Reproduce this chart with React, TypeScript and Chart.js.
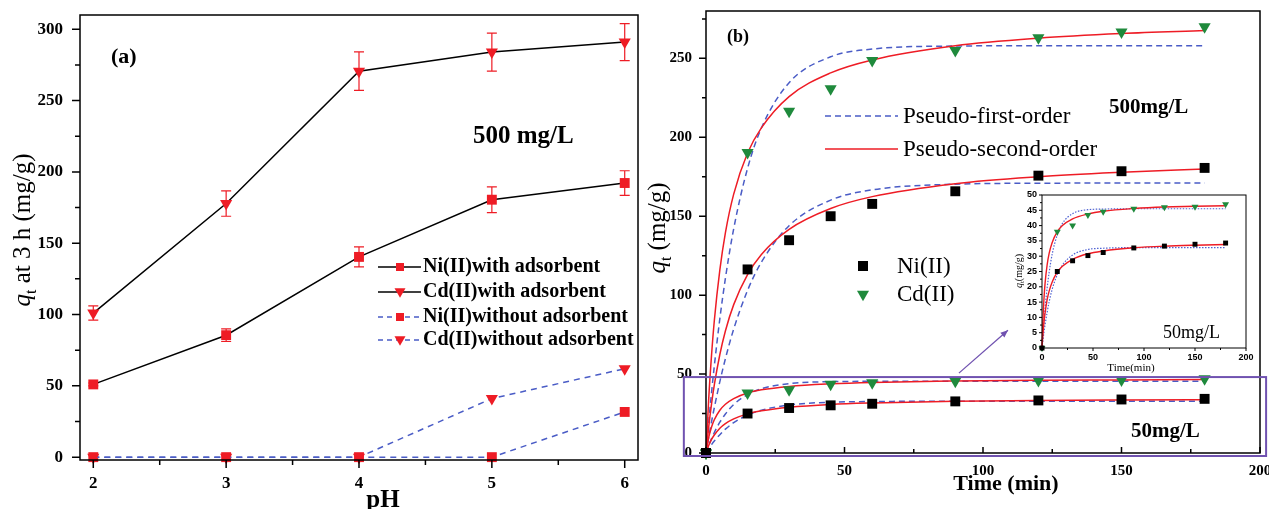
import React, { useEffect, useRef } from 'react';
import { Chart, registerables } from 'chart.js';
Chart.register(...registerables);

const SERIF = '"Liberation Serif", "Times New Roman", serif';
const SANS = '"Liberation Sans", Arial, sans-serif';
const RED = '#ee1c25';
const BLUE = '#4a5cc6';
const GREEN = '#1f8a3c';
const PURPLE = '#7052b0';

// ---------- Panel (a): effect of pH ----------
const pHValues = [2, 3, 4, 5, 6];
const niWith = [51, 85.5, 140.4, 180.5, 192.2];
const niWithErr = [1, 4.4, 7, 9, 8.6];
const cdWith = [101, 177.8, 270.6, 284, 291];
const cdWithErr = [5, 8.9, 13.5, 13.3, 13];
const niWithout = [0, 0, 0, 0, 31.7];
const cdWithout = [0, 0, 0, 41.1, 62];
const legendA = ['Ni(II)with adsorbent', 'Cd(II)with adsorbent', 'Ni(II)without adsorbent', 'Cd(II)without adsorbent'];

// ---------- Panel (b): kinetics ----------
const timeMin = [0, 15, 30, 45, 60, 90, 120, 150, 180];
const ni500 = [0, 116.3, 134.8, 150, 157.8, 165.8, 175.7, 178.5, 180.6];
const cd500 = [0, 190.3, 216.5, 230.8, 248.7, 255, 263, 266.7, 270];
const ni50 = [0, 25, 28.5, 30.2, 31.2, 32.7, 33.3, 33.9, 34.3];
const cd50 = [0, 38, 40, 43.5, 44.5, 45.5, 46, 46.2, 47];

const fitTime = [0, 1, 2, 3, 5, 7, 10, 15, 20, 30, 45, 60, 90, 120, 150, 180];
const psoCd500 = [0, 35, 62, 83.8, 116, 139.5, 164, 190, 206, 225.8, 240.8, 249, 258, 262.8, 265.7, 267.6];
const psoNi500 = [0, 16.9, 31.1, 43.1, 62.4, 77.3, 94, 113, 125.8, 141.7, 154.9, 162.4, 170.6, 175, 177.8, 179.9];
const psoCd50 = [0, 10, 16.5, 21.1, 27.1, 30.9, 34.5, 38, 40, 42.2, 43.8, 44.7, 45.6, 46.1, 46.3, 46.5];
const psoNi50 = [0, 4.9, 8.6, 11.4, 15.7, 18.6, 21.6, 24.8, 26.7, 29, 30.8, 31.7, 32.75, 33.3, 33.6, 33.8];
const pfoCd500 = [0, 19.8, 38.2, 55.1, 85.1, 110.6, 142.1, 180.3, 205.9, 234.6, 251, 255.9, 257.8, 258, 258, 258];
const pfoNi500 = [0, 10.2, 19.8, 28.7, 45.2, 59.7, 78.5, 103, 120.9, 144, 160.2, 166.7, 170.3, 170.9, 171, 171];
const pfoCd50 = [0, 4.8, 9.1, 13, 19.5, 24.7, 30.7, 37, 40.7, 43.9, 45.2, 45.4, 45.5, 45.5, 45.5, 45.5];
const pfoNi50 = [0, 2.8, 5.3, 7.6, 11.6, 15.1, 19.2, 24, 27.1, 30.4, 32.2, 32.6, 32.8, 32.8, 32.8, 32.8];

// highlight box around the 50 mg/L curves, and the arrow to the inset (data units)
const highlightT = [-8, 202.2];
const highlightQ = [-1.9, 48.1];
const arrowT = [91.3, 109];
const arrowQ = [50.6, 77.8];

const pts = (xs: number[], ys: number[]) => xs.map((x, i) => ({ x, y: ys[i] }));

function range(a: number, b: number, s: number) {
  const r: number[] = [];
  for (let v = a; v <= b + 1e-9; v += s) r.push(Math.round(v * 1000) / 1000);
  return r;
}

function ticksOn(ctx: CanvasRenderingContext2D, scale: any, vals: number[], major: (v: number) => boolean,
  majLen: number, minLen: number, pos: number, sign: number, horizontal: boolean) {
  ctx.beginPath();
  for (const v of vals) {
    const p = scale.getPixelForValue(v);
    const len = major(v) ? majLen : minLen;
    if (horizontal) { ctx.moveTo(p, pos); ctx.lineTo(p, pos + sign * len); }
    else { ctx.moveTo(pos, p); ctx.lineTo(pos + sign * len, p); }
  }
  ctx.stroke();
}

function qtTitle(ctx: CanvasRenderingContext2D, baseX: number, cy: number, size: number, rest: string) {
  ctx.save();
  ctx.translate(baseX, cy);
  ctx.rotate(-Math.PI / 2);
  const fq = `italic ${size}px ${SERIF}`;
  const fs = `${Math.round(size * 0.65)}px ${SERIF}`;
  const fr = `${size}px ${SERIF}`;
  ctx.font = fq; const wq = ctx.measureText('q').width;
  ctx.font = fs; const wt = ctx.measureText('t').width;
  ctx.font = fr; const wr = ctx.measureText(rest).width;
  let x = -(wq + wt + wr) / 2;
  ctx.textAlign = 'left'; ctx.textBaseline = 'alphabetic'; ctx.fillStyle = '#000';
  ctx.font = fq; ctx.fillText('q', x, 0); x += wq;
  ctx.font = fs; ctx.fillText('t', x, size * 0.22); x += wt;
  ctx.font = fr; ctx.fillText(rest, x, 0);
  ctx.restore();
}

function text(ctx: CanvasRenderingContext2D, s: string, x: number, y: number, font: string, align: CanvasTextAlign = 'left', base: CanvasTextBaseline = 'middle') {
  ctx.font = font; ctx.fillStyle = '#000'; ctx.textAlign = align; ctx.textBaseline = base;
  ctx.fillText(s, x, y);
}

function square(ctx: CanvasRenderingContext2D, x: number, y: number, s: number, c: string) {
  ctx.fillStyle = c; ctx.fillRect(x - s / 2, y - s / 2, s, s);
}
function triDown(ctx: CanvasRenderingContext2D, x: number, y: number, w: number, c: string) {
  const h = w * 0.866;
  ctx.fillStyle = c; ctx.beginPath();
  ctx.moveTo(x - w / 2, y - h / 2); ctx.lineTo(x + w / 2, y - h / 2); ctx.lineTo(x, y + h / 2);
  ctx.closePath(); ctx.fill();
}

function axisX(min: number, max: number, step: number, size: number, pad: number, height: number, family = SERIF) {
  return {
    type: 'linear', min, max,
    border: { display: false },
    grid: { display: false, drawTicks: false },
    ticks: { stepSize: step, includeBounds: false, autoSkip: false, maxRotation: 0, padding: pad, color: '#000',
      font: { family, size, weight: 'bold' } },
    afterFit(s: any) { s.height = height; s.paddingLeft = 0; s.paddingRight = 0; },
  };
}
function axisY(min: number, max: number, step: number, size: number, pad: number, width: number, family = SERIF) {
  return {
    type: 'linear', min, max,
    border: { display: false },
    grid: { display: false, drawTicks: false },
    ticks: { stepSize: step, includeBounds: false, autoSkip: false, padding: pad, color: '#000',
      font: { family, size, weight: 'bold' } },
    afterFit(s: any) { s.width = width; s.paddingTop = 0; s.paddingBottom = 0; },
  };
}

function configA(): any {
  const line = (data: number[], color: string, dash: number[], style: string, rot: number, r: number) => ({
    data: pts(pHValues, data), showLine: true, borderColor: color, borderWidth: 1.5, borderDash: dash,
    pointStyle: style, rotation: rot, pointRadius: r, pointBackgroundColor: RED, pointBorderColor: RED,
    pointBorderWidth: 0, clip: false,
  });
  return {
    type: 'scatter',
    data: {
      datasets: [
        line(cdWith, '#000', [], 'triangle', 180, 7),
        line(niWith, '#000', [], 'rect', 7, 7),
        line(cdWithout, BLUE, [6, 5], 'triangle', 180, 7),
        line(niWithout, BLUE, [6, 5], 'rect', 0, 7),
      ].map((d, i) => (i === 1 ? { ...d, rotation: 0 } : d)),
    },
    options: {
      responsive: false, animation: false, events: [],
      layout: { padding: { left: 0, top: 15, right: 4, bottom: 0 } },
      plugins: { legend: { display: false }, tooltip: { enabled: false } },
      scales: {
        x: axisX(1.9, 6.1, 1, 17, 13, 49),
        y: axisY(-2, 310, 50, 17, 17, 80),
      },
    },
    plugins: [{
      id: 'panelA',
      beforeDatasetsDraw(chart: any) {
        const ctx = chart.ctx; const xs = chart.scales.x; const ys = chart.scales.y;
        ctx.save(); ctx.strokeStyle = RED; ctx.lineWidth = 1.2;
        ([[niWith, niWithErr], [cdWith, cdWithErr]] as number[][][]).forEach(([vals, errs]) => {
          vals.forEach((v, i) => {
            const x = xs.getPixelForValue(pHValues[i]);
            const y1 = ys.getPixelForValue(v + errs[i]);
            const y2 = ys.getPixelForValue(v - errs[i]);
            ctx.beginPath();
            ctx.moveTo(x, y1); ctx.lineTo(x, y2);
            ctx.moveTo(x - 5, y1); ctx.lineTo(x + 5, y1);
            ctx.moveTo(x - 5, y2); ctx.lineTo(x + 5, y2);
            ctx.stroke();
          });
        });
        ctx.restore();
      },
      afterDraw(chart: any) {
        const ctx: CanvasRenderingContext2D = chart.ctx;
        const { left, top, right, bottom } = chart.chartArea;
        const xs = chart.scales.x; const ys = chart.scales.y;
        ctx.save();
        ctx.strokeStyle = '#000'; ctx.lineWidth = 1.5;
        ctx.strokeRect(left, top, right - left, bottom - top);
        ticksOn(ctx, ys, range(0, 300, 25), (v) => v % 50 === 0, 8, 5, left, -1, false);
        ticksOn(ctx, xs, range(2, 6, 0.5), (v) => Number.isInteger(v), 8, 5, bottom, 1, true);
        text(ctx, '(a)', 111, 57, `bold 22px ${SERIF}`);
        text(ctx, '500 mg/L', 473, 137, `bold 25px ${SERIF}`);
        const rows = [267, 292, 317, 340];
        rows.forEach((y, i) => {
          ctx.save();
          ctx.lineWidth = 1.5;
          if (i < 2) { ctx.strokeStyle = '#000'; ctx.setLineDash([]); }
          else { ctx.strokeStyle = BLUE; ctx.setLineDash([5, 4]); }
          ctx.beginPath(); ctx.moveTo(378, y); ctx.lineTo(421, y); ctx.stroke();
          ctx.restore();
          if (i % 2 === 0) square(ctx, 400, y, 8, RED); else triDown(ctx, 400, y + 1, 11, RED);
          text(ctx, legendA[i], 423, y, `bold 20px ${SERIF}`);
        });
        qtTitle(ctx, 30, 230, 25, ' at 3 h (mg/g)');
        text(ctx, 'pH', 383, 507, `bold 25px ${SERIF}`, 'center', 'alphabetic');
        ctx.restore();
      },
    }],
  };
}

function markerSets(r: number, sq: number) {
  const m = (data: number[], style: string, color: string, rad: number) => ({
    data: pts(timeMin, data), showLine: false, pointStyle: style, rotation: style === 'triangle' ? 180 : 0,
    pointRadius: rad, pointBackgroundColor: color, pointBorderColor: color, pointBorderWidth: 0, clip: false,
  });
  return [m(ni500, 'rect', '#000', sq), m(cd500, 'triangle', GREEN, r), m(ni50, 'rect', '#000', sq), m(cd50, 'triangle', GREEN, r)];
}
function fitSets(which: number[][], color: string, dash: number[], width: number) {
  return which.map((d) => ({
    data: pts(fitTime, d), showLine: true, borderColor: color, borderWidth: width, borderDash: dash,
    pointRadius: 0, cubicInterpolationMode: 'monotone', clip: false,
  }));
}

function configB(): any {
  const OX = 645;
  return {
    type: 'scatter',
    data: {
      datasets: [
        ...markerSets(7, 7),
        ...fitSets([psoCd500, psoNi500, psoCd50, psoNi50], RED, [], 1.5),
        ...fitSets([pfoCd500, pfoNi500, pfoCd50, pfoNi50], BLUE, [6, 4], 1.5),
      ],
    },
    options: {
      responsive: false, animation: false, events: [],
      layout: { padding: { left: 0, top: 11, right: 9, bottom: 0 } },
      plugins: { legend: { display: false }, tooltip: { enabled: false } },
      scales: {
        x: axisX(0, 200, 50, 15, 9, 56),
        y: axisY(0, 280, 50, 15, 14, 61),
      },
    },
    plugins: [{
      id: 'panelB',
      afterDraw(chart: any) {
        const ctx: CanvasRenderingContext2D = chart.ctx;
        const { left, top, right, bottom } = chart.chartArea;
        const xs = chart.scales.x; const ys = chart.scales.y;
        ctx.save();
        ctx.strokeStyle = '#000'; ctx.lineWidth = 1.5;
        ctx.strokeRect(left, top, right - left, bottom - top);
        ticksOn(ctx, ys, range(0, 275, 25), (v) => v % 50 === 0, 7, 4, left, -1, false);
        ticksOn(ctx, xs, range(0, 200, 25), (v) => v % 50 === 0, 6, 4, bottom, -1, true);
        // highlight box + arrow
        ctx.strokeStyle = PURPLE; ctx.lineWidth = 2;
        const bx1 = xs.getPixelForValue(highlightT[0]); const bx2 = xs.getPixelForValue(highlightT[1]);
        const by1 = ys.getPixelForValue(highlightQ[1]); const by2 = ys.getPixelForValue(highlightQ[0]);
        ctx.strokeRect(bx1, by1, bx2 - bx1, by2 - by1);
        const ax1 = xs.getPixelForValue(arrowT[0]); const ay1 = ys.getPixelForValue(arrowQ[0]);
        const ax2 = xs.getPixelForValue(arrowT[1]); const ay2 = ys.getPixelForValue(arrowQ[1]);
        ctx.lineWidth = 1.3;
        ctx.beginPath(); ctx.moveTo(ax1, ay1); ctx.lineTo(ax2, ay2); ctx.stroke();
        const ang = Math.atan2(ay2 - ay1, ax2 - ax1);
        ctx.fillStyle = PURPLE; ctx.beginPath();
        ctx.moveTo(ax2, ay2);
        ctx.lineTo(ax2 - 8 * Math.cos(ang - 0.4), ay2 - 8 * Math.sin(ang - 0.4));
        ctx.lineTo(ax2 - 8 * Math.cos(ang + 0.4), ay2 - 8 * Math.sin(ang + 0.4));
        ctx.closePath(); ctx.fill();
        // texts
        text(ctx, '(b)', 727 - OX, 37, `bold 18px ${SERIF}`);
        text(ctx, '500mg/L', 1109 - OX, 108, `bold 21px ${SERIF}`);
        text(ctx, '50mg/L', 1131 - OX, 432, `bold 21px ${SERIF}`);
        // legend
        ctx.lineWidth = 1.5;
        ctx.strokeStyle = BLUE; ctx.setLineDash([6, 4]);
        ctx.beginPath(); ctx.moveTo(825 - OX, 116); ctx.lineTo(898 - OX, 116); ctx.stroke();
        ctx.strokeStyle = RED; ctx.setLineDash([]);
        ctx.beginPath(); ctx.moveTo(825 - OX, 149); ctx.lineTo(898 - OX, 149); ctx.stroke();
        text(ctx, 'Pseudo-first-order', 903 - OX, 117, `23px ${SERIF}`);
        text(ctx, 'Pseudo-second-order', 903 - OX, 150, `23px ${SERIF}`);
        square(ctx, 863 - OX, 266, 10, '#000');
        triDown(ctx, 863 - OX, 296, 12, GREEN);
        text(ctx, 'Ni(II)', 897 - OX, 267, `23px ${SERIF}`);
        text(ctx, 'Cd(II)', 897 - OX, 295, `23px ${SERIF}`);
        qtTitle(ctx, 665 - OX, 228, 25, ' (mg/g)');
        text(ctx, 'Time (min)', 1006 - OX, 490, `bold 22px ${SERIF}`, 'center', 'alphabetic');
        ctx.restore();
      },
    }],
  };
}

function configInset(): any {
  const OX = 1005; const OY = 185;
  return {
    type: 'scatter',
    data: {
      datasets: [
        ...markerSets(4, 3.5).slice(2),
        ...fitSets([psoCd50, psoNi50], RED, [], 1.4),
        ...fitSets([pfoCd50, pfoNi50], '#4f62d2', [1.5, 1.5], 1.2),
      ],
    },
    options: {
      responsive: false, animation: false, events: [],
      layout: { padding: { left: 0, top: 10, right: 14, bottom: 0 } },
      plugins: { legend: { display: false }, tooltip: { enabled: false } },
      scales: {
        x: axisX(0, 200, 50, 9, 4, 32, SANS),
        y: axisY(0, 50, 5, 9, 5, 37, SANS),
      },
    },
    plugins: [{
      id: 'inset',
      afterDraw(chart: any) {
        const ctx: CanvasRenderingContext2D = chart.ctx;
        const { left, top, right, bottom } = chart.chartArea;
        const xs = chart.scales.x; const ys = chart.scales.y;
        ctx.save();
        ctx.strokeStyle = '#000'; ctx.lineWidth = 1;
        ctx.strokeRect(left, top, right - left, bottom - top);
        ticksOn(ctx, ys, range(0, 50, 2.5), (v) => v % 5 === 0, 3, 2, left, -1, false);
        ticksOn(ctx, xs, range(0, 200, 25), (v) => v % 50 === 0, 3, 2, bottom, 1, true);
        text(ctx, '50mg/L', 1163 - OX, 333 - OY, `18px ${SERIF}`);
        text(ctx, 'Time(min)', 1131 - OX, 368 - OY, `11px ${SERIF}`, 'center');
        qtTitle(ctx, 1022 - OX, 271 - OY, 10, '(mg/g)');
        ctx.restore();
      },
    }],
  };
}

export default function App() {
  const aRef = useRef<HTMLCanvasElement>(null);
  const bRef = useRef<HTMLCanvasElement>(null);
  const iRef = useRef<HTMLCanvasElement>(null);
  useEffect(() => {
    const charts = [
      new Chart(aRef.current as HTMLCanvasElement, configA()),
      new Chart(bRef.current as HTMLCanvasElement, configB()),
      new Chart(iRef.current as HTMLCanvasElement, configInset()),
    ];
    return () => charts.forEach((c) => c.destroy());
  }, []);
  return (
    <div style={{ position: 'fixed', left: 0, top: 0, width: 1269, height: 509, background: '#fff', overflow: 'hidden' }}>
      <canvas ref={aRef} width={645} height={509} style={{ position: 'absolute', left: 0, top: 0 }} />
      <canvas ref={bRef} width={624} height={509} style={{ position: 'absolute', left: 645, top: 0 }} />
      <canvas ref={iRef} width={255} height={195} style={{ position: 'absolute', left: 1005, top: 185 }} />
    </div>
  );
}
